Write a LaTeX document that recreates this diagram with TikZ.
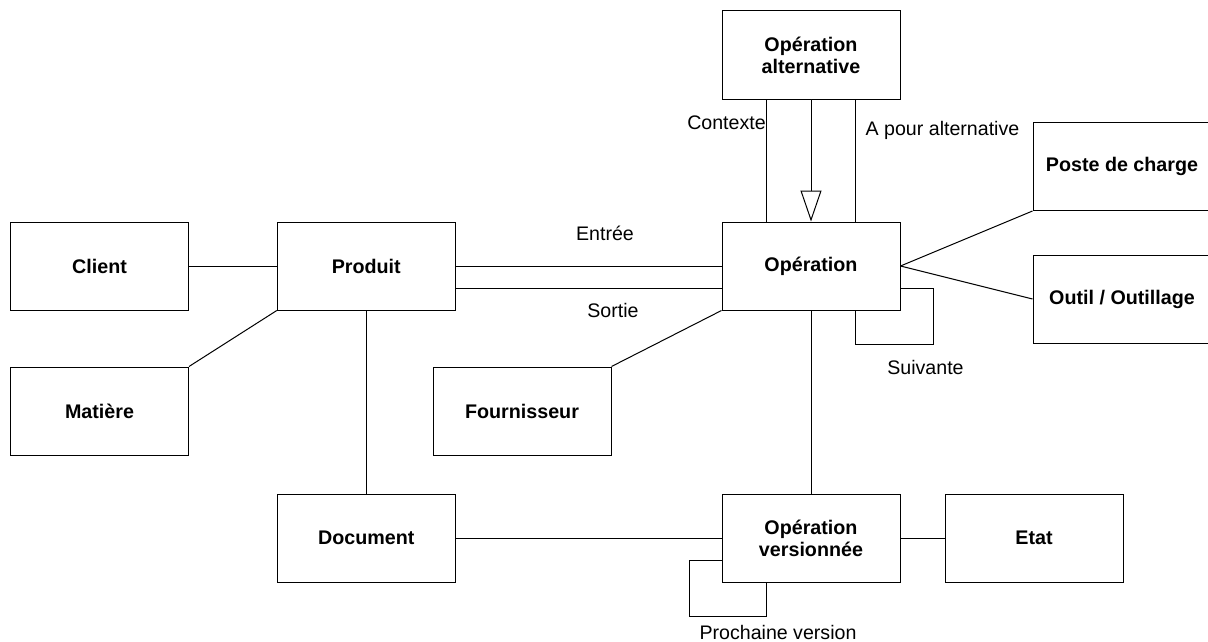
\documentclass[tikz,border=0pt]{standalone}
\usepackage{fontspec}
\setmainfont{Liberation Sans}
\usetikzlibrary{arrows.meta}
\begin{document}
\begin{tikzpicture}[x=1pt,y=-1pt,line width=1pt,
  entity/.style={draw,rectangle,minimum width=178pt,minimum height=88pt,inner sep=2pt,align=center,font=\fontsize{19.7}{22}\selectfont\bfseries},
  lbl/.style={inner sep=0pt,font=\fontsize{19.6}{22}\selectfont}]
\useasboundingbox (0,0) rectangle (1208,642);
\clip (0,0) rectangle (1208,642);
\fill[white] (0,0) rectangle (1208,642);
\node[entity] (client) at (99.5,266) {Client};
\node[entity] (produit) at (366.3,266) {Produit};
\node[entity] (matiere) at (99.5,411) {Matière};
\node[entity] (fourn) at (522,411) {Fournisseur};
\node[entity] (doc) at (366.3,538) {Document};
\node[entity] (opalt) at (811,55) {Opération\\alternative};
\node[entity] (op) at (811,266) {Opération};
\node[entity] (poste) at (1122,166.5) {Poste de charge};
\node[entity] (outil) at (1122,299) {Outil / Outillage};
\node[entity] (opv) at (811,538) {Opération\\versionnée};
\node[entity] (etat) at (1034,538) {Etat};
% connectors
\draw (client.east) -- (produit.west);
\draw (matiere.north east) -- (produit.south west);
\draw (produit.east) -- (op.west);
\draw ([yshift=-22.5pt]produit.east) -- ([yshift=-22.5pt]op.west);
\draw (fourn.north east) -- (op.south west);
\draw (produit.south) -- (doc.north);
\draw (doc.east) -- (opv.west);
\draw (op.south) -- (opv.north);
\draw (opv.east) -- (etat.west);
\draw (op.east) -- (poste.south west);
\draw (op.east) -- (outil.west);
\draw ([xshift=-44.5pt]opalt.south) -- ([xshift=-44.5pt]op.north);
\draw ([xshift=44.5pt]opalt.south) -- ([xshift=44.5pt]op.north);
\draw[-{Triangle[open,length=31pt,width=21pt,line width=1pt]},fill=white] (opalt.south) -- (op.north);
\coordinate (sv) at (933,344);
\draw ([yshift=-22.5pt]op.east) -| (sv) -| ([xshift=44.5pt]op.south);
\coordinate (pv) at (689,616);
\draw ([yshift=-22.5pt]opv.west) -| (pv) -| ([xshift=-44.5pt]opv.south);
% labels
\node[lbl] (lentree) at (605,233) {Entrée};
\node[lbl] (lsortie) at (613,310) {Sortie};
\node[lbl] (lctx) at (726.5,123) {Contexte};
\node[lbl] (lalt) at (942.5,130) {A pour alternative};
\node[lbl] (lsuiv) at (925.5,367) {Suivante};
\node[lbl] (lproch) at (778,632) {Prochaine version};
\end{tikzpicture}
\end{document}
